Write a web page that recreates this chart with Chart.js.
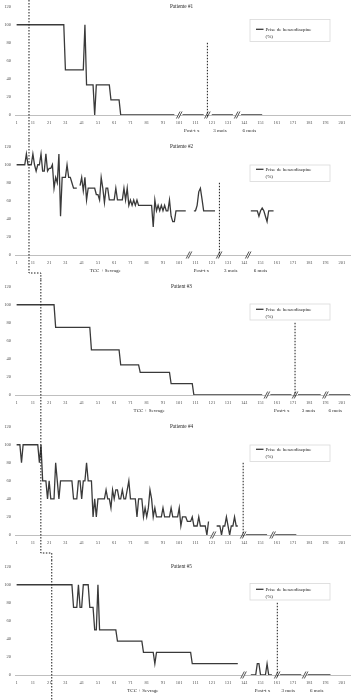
<!DOCTYPE html>
<html>
<head>
<meta charset="utf-8">
<script src="https://cdn.jsdelivr.net/npm/chart.js@4.4.0/dist/chart.umd.min.js"></script>
<style>
  body { margin: 0; background: #fff; }
  .panel { position: absolute; left: 0; width: 352px; height: 140px; }
</style>
</head>
<body>
<div class="panel" style="top:0px"><canvas id="p1" width="352" height="140"></canvas></div>
<div class="panel" style="top:140px"><canvas id="p2" width="352" height="140"></canvas></div>
<div class="panel" style="top:280px"><canvas id="p3" width="352" height="140"></canvas></div>
<div class="panel" style="top:420px"><canvas id="p4" width="352" height="140"></canvas></div>
<div class="panel" style="top:560px"><canvas id="p5" width="352" height="140"></canvas></div>
<script>
// x axis ticks (days)
const xTicks = [1, 11, 21, 31, 41, 51, 61, 71, 81, 91, 101, 111, 121, 131, 141, 151, 161, 171, 181, 191, 201];
const xTickLabels = ['1', '11', '21', '31', '41', '51', '61', '71', '81', '91', '101', '111', '121', '131', '141', '151', '161', '171', '181', '191', '201'];
const legendLines = ['Prise de benzodiazpine', '(%)'];
const titles = ['Patiente #1', 'Patiente #2', 'Patient #3', 'Patiente #4', 'Patient #5'];

// daily intake (%), one value per day starting at day 1, null = no data
const p1Values = [
  100, 100, 100, 100, 100, 100, 100, 100, 100, 100,
  100, 100, 100, 100, 100, 100, 100, 100, 100, 100,
  100, 100, 100, 100, 100, 100, 100, 100, 100, 100,
  50, 50, 50, 50, 50, 50, 50, 50, 50, 50,
  50, 50, 100, 33.3, 33.3, 33.3, 33.3, 33.3, 0, 33.3,
  33.3, 33.3, 33.3, 33.3, 33.3, 33.3, 33.3, 33.3, 16.7, 16.7,
  16.7, 16.7, 16.7, 16.7, 0, 0, 0, 0, 0, 0,
  0, 0, 0, 0, 0, 0, 0, 0, 0, 0,
  0, 0, 0, 0, 0, 0, 0, 0, 0, 0,
  0, 0, 0, 0, 0, 0, 0, 0, null, null,
  null, null, 0, 0, 0, 0, 0, 0, 0, 0,
  0, 0, 0, 0, 0, 0, null, null, null, null,
  0, 0, 0, 0, 0, 0, 0, 0, 0, 0,
  0, 0, 0, 0, null, null, null, null, 0, 0,
  0, 0, 0, 0, 0, 0, 0, 0, 0, 0,
  0, 0
];
const p2Values = [
  100, 100, 100, 100, 100, 100, 112, 100, 100, 100,
  112, 100, 93, 100, 100, 112, 93, 93, 112, 93,
  96, 96, 100, 74, 86, 80, 112, 43, 86, 86,
  86, 100, 86, 86, 80, 74, 74, 74, null, 77,
  86, 71, 86, 61, 74, 74, 74, 74, 74, 67,
  67, 61, 86, 74, 58, 74, 74, 61, 61, 61,
  61, 74, 61, 61, 61, 61, 74, 61, 74, 55,
  61, 55, 61, 55, 61, 55, 55, 55, 55, 55,
  55, 55, 55, 55, 31, 61, 49, 55, 49, 55,
  49, 55, 49, 49, 61, 43, 37, 37, 49, 49,
  49, 49, 49, 49, 49, null, null, null, null, 49,
  49, 55, 70, 74, 62, 49, 49, 49, 49, 49,
  49, 49, 49, null, null, null, null, null, null, null,
  null, null, null, null, null, null, null, null, null, null,
  null, null, null, null, 49, 49, 49, 49, 49, 43,
  49, 52, 49, 43, 37, 49, 49, 49, 49
];
const p3Values = [
  100, 100, 100, 100, 100, 100, 100, 100, 100, 100,
  100, 100, 100, 100, 100, 100, 100, 100, 100, 100,
  100, 100, 100, 100, 75, 75, 75, 75, 75, 75,
  75, 75, 75, 75, 75, 75, 75, 75, 75, 75,
  75, 75, 75, 75, 75, 75, 50, 50, 50, 50,
  50, 50, 50, 50, 50, 50, 50, 50, 50, 50,
  50, 50, 50, 50, 33.3, 33.3, 33.3, 33.3, 33.3, 33.3,
  33.3, 33.3, 33.3, 33.3, 33.3, 33.3, 25, 25, 25, 25,
  25, 25, 25, 25, 25, 25, 25, 25, 25, 25,
  25, 25, 25, 25, 25, 12.5, 12.5, 12.5, 12.5, 12.5,
  12.5, 12.5, 12.5, 12.5, 12.5, 12.5, 12.5, 12.5, 12.5, 0,
  0, 0, 0, 0, 0, 0, 0, 0, 0, 0,
  0, 0, 0, 0, 0, 0, 0, 0, 0, 0,
  0, 0, 0, 0, 0, 0, 0, 0, 0, 0,
  0, 0, 0, 0, 0, 0, 0, 0, 0, 0,
  0, 0, null, null, null, null, 0, 0, 0, 0,
  0, 0, 0, 0, 0, 0, 0, 0, 0, 0,
  null, null, null, 0, 0, 0, 0, 0, 0, 0,
  0, 0, 0, 0, 0, 0, 0, 0, null, null,
  null, null, 0, 0, 0, 0, 0, 0, 0, 0,
  0, 0, 0, 0, 0, 0
];
const p4Values = [
  100, 100, 100, 80, 100, 100, 100, 100, 100, 100,
  100, 100, 100, 100, 80, 100, 60, 60, 60, 40,
  60, 40, 40, 40, 80, 60, 40, 60, 60, 60,
  60, 60, 60, 60, 60, 40, 40, 40, 60, 60,
  40, 60, 60, 80, 60, 60, 60, 20, 40, 20,
  40, 40, 40, 40, 40, 50, 40, 40, 30, 50,
  40, 50, 50, 40, 40, 50, 40, 40, 50, 60,
  40, 40, 40, 40, 20, 40, 40, 40, 20, 30,
  20, 30, 50, 40, 20, 30, 20, 20, 20, 20,
  30, 20, 20, 20, 20, 30, 20, 20, 20, 20,
  30, 10, 20, 20, 20, 15, 15, 15, 20, 10,
  10, 10, 20, 10, 10, 10, 10, 0, 15, null,
  null, null, null, 10, 10, 10, 0, 10, 10, 20,
  10, 0, 10, 10, 20, 10, 10, null, null, null,
  null, 0, 0, 0, 0, 0, 0, 0, 0, 0,
  0, 0, 0, 0, 0, null, null, null, null, 0,
  0, 0, 0, 0, 0, 0, 0, 0, 0, 0,
  0, 0, 0
];
const p5Values = [
  100, 100, 100, 100, 100, 100, 100, 100, 100, 100,
  100, 100, 100, 100, 100, 100, 100, 100, 100, 100,
  100, 100, 100, 100, 100, 100, 100, 100, 100, 100,
  100, 100, 100, 100, 100, 75, 75, 75, 100, 75,
  75, 100, 100, 100, 100, 75, 75, 75, 50, 50,
  100, 50, 50, 50, 50, 50, 50, 50, 50, 50,
  50, 50, 37.5, 37.5, 37.5, 37.5, 37.5, 37.5, 37.5, 37.5,
  37.5, 37.5, 37.5, 37.5, 37.5, 37.5, 37.5, 37.5, 25, 25,
  25, 25, 25, 25, 25, 12.5, 25, 25, 25, 25,
  25, 25, 25, 25, 25, 25, 25, 25, 25, 25,
  25, 25, 25, 25, 25, 25, 25, 25, 12.5, 12.5,
  12.5, 12.5, 12.5, 12.5, 12.5, 12.5, 12.5, 12.5, 12.5, 12.5,
  12.5, 12.5, 12.5, 12.5, 12.5, 12.5, 12.5, 12.5, 12.5, 12.5,
  12.5, 12.5, 12.5, 12.5, 12.5, 12.5, 12.5, null, null, null,
  null, null, null, null, 0, 0, 0, 0, 12.5, 12.5,
  0, 0, 0, 0, 12.5, 0, 0, 0, null, null,
  null, null, 0, 0, 0, 0, 0, 0, 0, 0,
  0, 0, 0, 0, 0, 0, null, null, null, 0,
  0, 0, 0, 0, 0, 0, 0, 0, 0, 0,
  0, 0, 0, 0
];

// axis breaks (day positions) and follow-up markers
const p1Breaks = [101, 118.3, 136.6];
const p2Breaks = [107, 125.5, 143.4];
const p3Breaks = [154.9, 172.2, 190.9];
const p4Breaks = [121.8, 140.3, 158.4];
const p5Breaks = [140.5, 161.2, 178.4];
const postTxDay = [118.3, 125.7, 172.2, 140.3, 161.3];
const baselineEndDay = [8.6, 8.6, 15.9, 15.9, 22.6];
const nextBaselineDay = [null, 15.9, null, 22.6, null];

const p1Phases = ['Post-t x', '3 mois', '6 mois'];
const p1PhaseDays = [108.7, 126, 144.1];
const p2Phases = ['TCC + Sevrage', 'Post-t x', '3 mois', '6 mois'];
const p2PhaseDays = [55.5, 114.6, 132.7, 151];
const p3Phases = ['TCC + Sevrage', 'Post-t x', '3 mois', '6 mois'];
const p3PhaseDays = [82.5, 164, 180.4, 196.9];
const p4Phases = [];
const p4PhaseDays = [];
const p5Phases = ['TCC + Sevrage', 'Post-t x', '3 mois', '6 mois'];
const p5PhaseDays = [78.6, 152.2, 168, 185.6];

const FONT = "'Liberation Serif', 'Times New Roman', serif";
const legendTop = [19.5, 25, 24, 25, 23.5];
const legendBottom = [41.5, 41.5, 40, 41.5, 40];

const decorPlugin = {
  id: 'decor',
  afterDraw(chart, args, o) {
    const ctx = chart.ctx;
    const area = chart.chartArea;
    const xs = chart.scales.x;
    const ys = chart.scales.y;
    const base = area.bottom;
    ctx.save();

    // title
    ctx.fillStyle = '#1f1f1f';
    ctx.font = '5.2px ' + FONT;
    ctx.textAlign = 'center';
    ctx.textBaseline = 'middle';
    ctx.fillText(o.title, (area.left + area.right) / 2 - 1, 6.5);

    // legend
    const lt = legendTop[o.idx], lb = legendBottom[o.idx];
    ctx.fillStyle = '#fff';
    ctx.fillRect(250, lt, 80, lb - lt);
    ctx.strokeStyle = '#d9d9d9';
    ctx.lineWidth = 0.8;
    ctx.strokeRect(250, lt, 80, lb - lt);
    ctx.strokeStyle = '#3a3a3a';
    ctx.lineWidth = 1.3;
    ctx.beginPath();
    ctx.moveTo(256, 29.3);
    ctx.lineTo(263.5, 29.3);
    ctx.stroke();
    ctx.fillStyle = '#262626';
    ctx.font = '5px ' + FONT;
    ctx.textAlign = 'left';
    ctx.fillText(legendLines[0], 265.5, 29.3);
    ctx.fillText(legendLines[1], 265.5, 36.7);

    // axis breaks
    o.breaks.forEach(d => {
      const px = xs.getPixelForValue(d);
      ctx.strokeStyle = '#fff';
      ctx.lineWidth = 2;
      ctx.beginPath();
      ctx.moveTo(px - 1.8, base + 3.5);
      ctx.lineTo(px + 1.8, base - 3.5);
      ctx.stroke();
      ctx.strokeStyle = '#404040';
      ctx.lineWidth = 0.9;
      [-1, 1].forEach(s => {
        ctx.beginPath();
        ctx.moveTo(px - 1.8 + s, base + 3.5);
        ctx.lineTo(px + 1.8 + s, base - 3.5);
        ctx.stroke();
      });
    });

    // dashed markers
    ctx.strokeStyle = '#1a1a1a';
    ctx.lineWidth = 1;
    ctx.setLineDash([1.5, 1.5]);
    const pt = xs.getPixelForValue(postTxDay[o.idx]);
    ctx.beginPath();
    ctx.moveTo(pt, ys.getPixelForValue(80));
    ctx.lineTo(pt, base + 2);
    ctx.stroke();

    const gx = xs.getPixelForValue(baselineEndDay[o.idx]);
    const nd = nextBaselineDay[o.idx];
    ctx.beginPath();
    ctx.moveTo(gx, 0);
    if (nd !== null) {
      const jogY = base + 18;
      const nx = xs.getPixelForValue(nd);
      ctx.lineTo(gx, jogY);
      ctx.lineTo(nx, jogY);
      ctx.lineTo(nx, chart.height);
    } else {
      ctx.lineTo(gx, chart.height);
    }
    ctx.stroke();
    ctx.setLineDash([]);

    // phase labels
    ctx.fillStyle = '#262626';
    ctx.textAlign = 'center';
    o.phases.forEach((t, i) => {
      ctx.fillText(t, xs.getPixelForValue(o.phaseDays[i]), base + 16);
    });
    ctx.restore();
  }
};

function drawPanel(id, idx, values, breaks, phases, phaseDays) {
  const ctx = document.getElementById(id).getContext('2d');
  new Chart(ctx, {
    type: 'line',
    data: {
      datasets: [{
        label: legendLines.join(' '),
        data: values.map((v, i) => ({ x: i + 1, y: v })),
        borderColor: '#3a3a3a',
        borderWidth: 1.3,
        pointRadius: 0,
        tension: 0,
        spanGaps: false
      }]
    },
    options: {
      responsive: false,
      animation: false,
      devicePixelRatio: 1,
      layout: { padding: { top: 6, right: 2, left: 0, bottom: 0 } },
      plugins: {
        legend: { display: false },
        tooltip: { enabled: false },
        decor: { idx: idx, title: titles[idx], breaks: breaks, phases: phases, phaseDays: phaseDays }
      },
      scales: {
        x: {
          type: 'linear',
          min: 0,
          max: 206,
          grid: { display: false, drawTicks: false },
          border: { display: true, color: '#bfbfbf', width: 1 },
          afterBuildTicks: s => { s.ticks = xTicks.map(v => ({ value: v })); },
          afterFit: s => { s.height = 25; },
          ticks: {
            autoSkip: false,
            maxRotation: 0,
            padding: 5.5,
            color: '#4d4d4d',
            font: { family: FONT, size: 4.5 },
            callback: (v, i) => xTickLabels[i]
          }
        },
        y: {
          min: 0,
          max: 120,
          grid: { display: false, drawTicks: false },
          border: { display: false },
          afterFit: s => { s.width = 15; },
          ticks: { stepSize: 20, padding: 4, color: '#4d4d4d', font: { family: FONT, size: 4.5 } }
        }
      }
    },
    plugins: [decorPlugin]
  });
}

drawPanel('p1', 0, p1Values, p1Breaks, p1Phases, p1PhaseDays);
drawPanel('p2', 1, p2Values, p2Breaks, p2Phases, p2PhaseDays);
drawPanel('p3', 2, p3Values, p3Breaks, p3Phases, p3PhaseDays);
drawPanel('p4', 3, p4Values, p4Breaks, p4Phases, p4PhaseDays);
drawPanel('p5', 4, p5Values, p5Breaks, p5Phases, p5PhaseDays);
</script>
</body>
</html>
